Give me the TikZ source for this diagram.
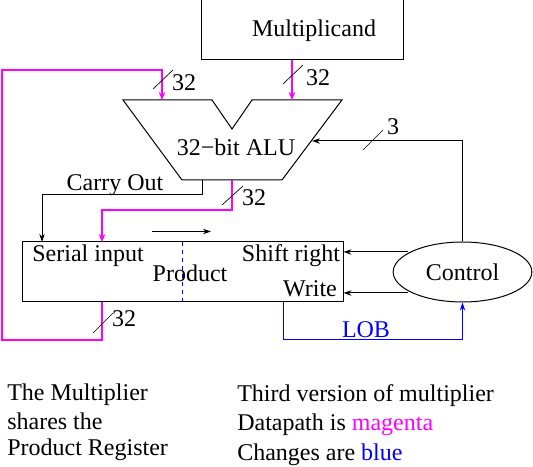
\documentclass[tikz,border=0pt]{standalone}
\usepackage{fontspec}
\setmainfont{Liberation Serif}
\usetikzlibrary{arrows.meta,calc,positioning,shapes.geometric}
\definecolor{datapath}{HTML}{FF00FF}
\definecolor{change}{HTML}{0000FF}

\begin{document}
\begin{tikzpicture}[
  x=0.75pt,y=0.75pt,
  font=\fontsize{18}{21}\selectfont,
  box/.style={draw=black, line width=0.75pt, inner sep=0pt},
  label/.style={inner sep=0pt, anchor=base},
  caption/.style={inner sep=0pt, anchor=base west},
  flow/.style={-{Stealth[length=6pt,width=4pt]}, line width=0.75pt},
  busflow/.style={-{Stealth[length=6pt,width=5pt]}, line width=2pt, draw=datapath},
  lob/.style={-{Stealth[length=6pt,width=4pt]}, line width=0.75pt, draw=change},
  slash/.style={line width=0.5pt}
]
\useasboundingbox (0,0) rectangle (533,467);

% Multiplicand and ALU
\node[box, minimum width=151pt, minimum height=45pt] (mcand) at (302.5,437) {};
\node[label] (mcandtext) at (314,430) {Multiplicand};
\draw[line width=0.75pt] (123,367) -- (212,367) -- (232,338) -- (252,367) -- (342,367)
  -- (282,287) -- (182,287) -- cycle;
\node[label] (alu) at (236,311) {32−bit ALU};
\coordinate (alua) at (162,367);
\coordinate (alub) at (292,367);
\coordinate (aluctl) at (312,326);
\coordinate (alucarry) at (202,287);
\coordinate (aluout) at (232,287);

% Product register
\node[box, minimum width=240.75pt, minimum height=45pt] (prod) at (182.5,195) {};
\draw[change, dashed, line width=0.75pt] (182,225) -- (182,165);
\node[label] (serial) at (88,205) {Serial input};
\node[label] (product) at (190,185) {Product};
\node[label] (shift) at (291,205) {Shift right};
\node[label] (write) at (310,170) {Write};
\coordinate (carryin) at (42,225);
\coordinate (prodin) at (102,225);
\coordinate (prodout) at (102,165);
\coordinate (lobout) at (283,165);
\coordinate (shiftfrom) at (152,235.5);
\coordinate (shiftto) at (211,235.5);
\draw[flow] (shiftfrom) -- (shiftto);

% Control
\node[box, ellipse, minimum width=104pt, minimum height=45pt] (control) at (462.5,195) {Control};

% Datapath
\draw[busflow] (mcand.south -| alub) -- (alub);
\draw[busflow] (prodout) -- ++(0,-38) -- ++(-100,0) |- (162,397) -- (alua);
\draw[busflow] (aluout) -- ++(0,-30) -| (prodin);

% Control lines
\draw[flow] (alucarry) -- ++(0,-15) -| (carryin);
\draw[flow] (control.north) |- (aluctl);
\draw[flow] (control.north west |- 0,215) ++(-5,0) -- (prod.east |- 0,215);
\draw[flow] (control.south west |- 0,174) ++(-5,0) -- (prod.east |- 0,174);
\draw[lob] (lobout) -- ++(0,-38) -| (control.south);

% Bus widths
\draw[slash] (153,378) -- (173,397);
\draw[slash] (283,383) -- (303,402);
\draw[slash] (363,317) -- (383,337);
\draw[slash] (222,262) -- (243,281);
\draw[slash] (93,134) -- (113,154);
\node[label] (w1) at (184,376) {32};
\node[label] (w2) at (318,381) {32};
\node[label] (w3) at (393,332) {3};
\node[label] (w4) at (254,261) {32};
\node[label] (w5) at (124,140) {32};
\node[label, text=change] (lobtext) at (366,129) {LOB};
\node[label] (carry) at (115,276) {Carry Out};

% Captions
\node[caption] (capa) at (7,66) {The Multiplier};
\node[caption] (capb) at (7,37) {shares the};
\node[caption] (capc) at (7,11) {Product Register};
\node[caption] (capd) at (237,65) {Third version of multiplier};
\node[caption] (cape) at (237,36) {Datapath is \textcolor{datapath}{magenta}};
\node[caption] (capf) at (237,6) {Changes are \textcolor{change}{blue}};

\end{tikzpicture}
\end{document}
